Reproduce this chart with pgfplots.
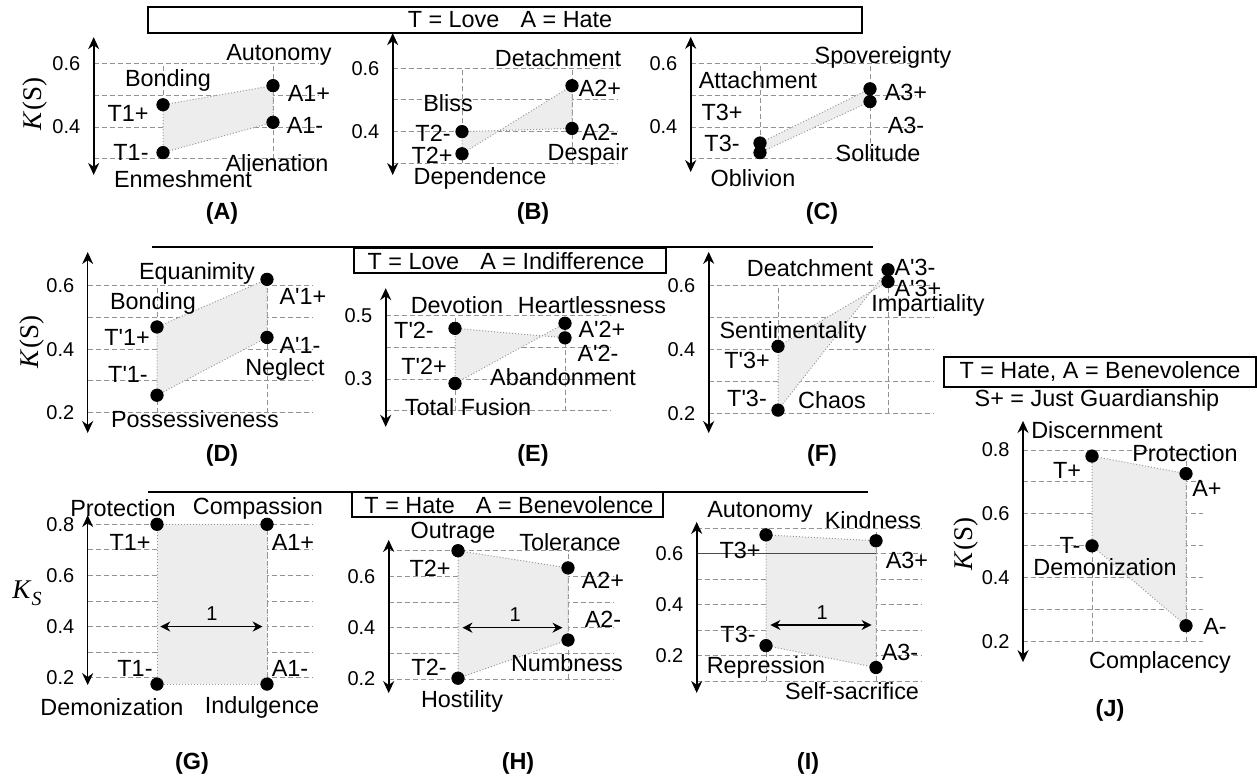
\documentclass[border=0pt]{standalone}
\usepackage{fontspec}
\setmainfont{Liberation Sans}
\newfontfamily\serif{Liberation Serif}
\usepackage{pgfplots}
\pgfplotsset{compat=1.18}
\usetikzlibrary{arrows.meta}

\newcommand\lbl{\fontsize{11.7}{13}\selectfont}
\newcommand\tk{\fontsize{10}{11}\selectfont}
\newcommand\q{\textquotesingle}
\newcommand\KS{{\serif\fontsize{13.5}{15}\selectfont\textit{K}(S)}}
% pixel position (from the top-left corner) to a TikZ point
\newcommand\pxp[2]{({#1*0.5pt},{-#2*0.5pt})}

\pgfplotsset{
  panel/.style={
    scale only axis, clip=false, anchor=south west,
    axis lines=left, axis line style={draw=none,-},
    xmin=0.37, xmax=2.41, width=112.2pt,
    xtick={1,2}, xticklabels={},
    xmajorgrids, ymajorgrids,
    major grid style={gray!85, dash pattern=on 2.5pt off 1.5pt, line width=0.5pt},
    major tick length=0pt,
    yticklabel style={font=\tk, inner sep=0pt, xshift=-6.5pt},
  },
  zone/.style={fill=black!7, draw=gray!80, densely dotted, line width=0.5pt},
  dots/.style={only marks, mark=*, mark size=3.1pt, black},
}
\tikzset{
  yax/.style={{Stealth[length=6pt,width=5.5pt]}-{Stealth[length=6pt,width=5.5pt]}, line width=0.8pt},
  one/.style={{Stealth[length=5pt,width=5pt]}-{Stealth[length=5pt,width=5pt]}, line width=0.7pt},
}

\begin{document}
\begin{tikzpicture}[font=\lbl]
\path[use as bounding box] \pxp{0}{0} rectangle \pxp{1257}{780};

% headers
\draw[line width=0.65pt] \pxp{148}{7} rectangle \pxp{862}{33};
\node[inner sep=0] at \pxp{510}{20} {T = Love\hspace{0.9em}A = Hate};
\draw[line width=0.65pt] \pxp{152}{247} -- \pxp{873}{247};
\draw[line width=0.65pt] \pxp{354}{248} rectangle \pxp{666}{273};
\node[inner sep=0] at \pxp{506}{261} {T = Love\hspace{0.9em}A = Indifference};
\draw[line width=0.65pt] \pxp{148}{492} -- \pxp{868}{492};
\draw[line width=0.65pt] \pxp{352}{492} rectangle \pxp{663}{517};
\node[inner sep=0] at \pxp{509}{505} {T = Hate\hspace{0.9em}A = Benevolence};
\draw[line width=0.65pt] \pxp{944}{357} rectangle \pxp{1256}{387};
\node[inner sep=0] at \pxp{1100}{372} {T = Hate, A = Benevolence};
\node[inner sep=0] at \pxp{1097}{400} {S+ = Just Guardianship};

% (A)
\begin{axis}[panel, at={(46.85pt,-79.5pt)}, height=47.85pt, ymin=0.3, ymax=0.6,
  ytick={0.3,0.4,0.5,0.6}, yticklabels={,0.4,,0.6}]
\addplot[zone] coordinates {(1,0.47) (2,0.53) (2,0.415) (1,0.32)} -- cycle;
\addplot[dots] coordinates {(1,0.47) (2,0.53) (2,0.415) (1,0.32)};
\draw[yax] (axis cs:0.37,0.25) -- (axis cs:0.37,0.682);
\end{axis}

% (B)
\begin{axis}[panel, at={(196.35pt,-81.65pt)}, height=47.5pt, ymin=0.3, ymax=0.6,
  ytick={0.3,0.4,0.5,0.6}, yticklabels={,0.4,,0.6}]
\addplot[zone] coordinates {(1,0.33) (2,0.545) (2,0.41) (1,0.40)} -- cycle;
\addplot[dots] coordinates {(1,0.33) (2,0.545) (2,0.41) (1,0.40)};
\draw[yax] (axis cs:0.37,0.263) -- (axis cs:0.37,0.711);
\end{axis}

% (C)
\begin{axis}[panel, at={(345.35pt,-79.5pt)}, height=47.85pt, ymin=0.3, ymax=0.6,
  ytick={0.3,0.4,0.5,0.6}, yticklabels={,0.4,,0.6}]
\addplot[zone] coordinates {(1,0.35) (2,0.52) (2,0.48) (1,0.32)} -- cycle;
\addplot[dots] coordinates {(1,0.35) (2,0.52) (2,0.48) (1,0.32)};
\draw[yax] (axis cs:0.37,0.259) -- (axis cs:0.37,0.683);
\end{axis}

% (D)
\begin{axis}[panel, at={(43.85pt,-206.35pt)}, height=63.5pt, ymin=0.2, ymax=0.6,
  ytick={0.2,0.3,0.4,0.5,0.6}, yticklabels={0.2,,0.4,,0.6}]
\addplot[zone] coordinates {(1,0.47) (2,0.62) (2,0.437) (1,0.255)} -- cycle;
\addplot[dots] coordinates {(1,0.47) (2,0.62) (2,0.437) (1,0.255)};
\draw[yax] (axis cs:0.37,0.136) -- (axis cs:0.37,0.706);
\end{axis}

% (E)
\begin{axis}[panel, at={(192.85pt,-205.35pt)}, height=47.5pt, ymin=0.2, ymax=0.5,
  ytick={0.2,0.3,0.4,0.5}, yticklabels={,0.3,,0.5}]
\addplot[zone] coordinates {(1,0.286) (2,0.476) (2,0.43) (1,0.46)} -- cycle;
\addplot[dots] coordinates {(1,0.286) (2,0.476) (2,0.43) (1,0.46)};
\draw[yax] (axis cs:0.37,0.149) -- (axis cs:0.37,0.587);
\end{axis}

% (F)
\begin{axis}[panel, at={(354.35pt,-206.65pt)}, height=63.8pt, ymin=0.2, ymax=0.6,
  ytick={0.2,0.3,0.4,0.5,0.6}, yticklabels={0.2,,0.4,,0.6}]
\addplot[zone] coordinates {(1,0.41) (2,0.613) (2,0.65) (1,0.21)} -- cycle;
\addplot[dots] coordinates {(1,0.41) (2,0.613) (2,0.65) (1,0.21)};
\draw[yax] (axis cs:0.37,0.138) -- (axis cs:0.37,0.706);
\end{axis}

% (G)
\begin{axis}[panel, at={(43.85pt,-338.85pt)}, height=76.7pt, ymin=0.2, ymax=0.8,
  ytick={0.2,0.3,0.4,0.5,0.6,0.7,0.8}, yticklabels={0.2,,0.4,,0.6,,0.8}]
\addplot[zone] coordinates {(1,0.8) (2,0.8) (2,0.175) (1,0.175)} -- cycle;
\addplot[dots] coordinates {(1,0.8) (2,0.8) (2,0.175) (1,0.175)};
\draw[yax] (axis cs:0.37,0.171) -- (axis cs:0.37,0.836);
\draw[one] (axis cs:1.03,0.4) -- (axis cs:1.96,0.4);
\node[font=\tk, inner sep=0] at (axis cs:1.5,0.452) {1};
\end{axis}

% (H)
\begin{axis}[panel, at={(194.35pt,-339.5pt)}, height=64.15pt, ymin=0.2, ymax=0.7,
  ytick={0.2,0.3,0.4,0.5,0.6,0.7}, yticklabels={0.2,,0.4,,0.6,}]
\addplot[zone] coordinates {(1,0.70) (2,0.633) (2,0.352) (1,0.203)} -- cycle;
\addplot[dots] coordinates {(1,0.70) (2,0.633) (2,0.352) (1,0.203)};
\draw[yax] (axis cs:0.37,0.145) -- (axis cs:0.37,0.742);
\draw[one] (axis cs:1.04,0.4) -- (axis cs:1.95,0.4);
\node[font=\tk, inner sep=0] at (axis cs:1.52,0.45) {1};
\end{axis}

% (I)
\begin{axis}[panel, at={(348.35pt,-340.5pt)}, height=76.35pt, ymin=0.1, ymax=0.7,
  ytick={0.1,0.2,0.3,0.4,0.5,0.6,0.7}, yticklabels={,0.2,,0.4,,0.6,}]
\addplot[zone] coordinates {(1,0.674) (2,0.651) (2,0.153) (1,0.239)} -- cycle;
\addplot[dots] coordinates {(1,0.674) (2,0.651) (2,0.153) (1,0.239)};
\draw[gray!60!black, line width=0.5pt] (axis cs:0.37,0.6) -- (axis cs:2,0.6);
\draw[yax] (axis cs:0.37,0.053) -- (axis cs:0.37,0.725);
\draw[one] (axis cs:1.04,0.32) -- (axis cs:1.96,0.32);
\node[font=\tk, inner sep=0] at (axis cs:1.51,0.367) {1};
\end{axis}

% (J)
\begin{axis}[panel, at={(511.5pt,-320.85pt)}, width=89.96pt, xmin=0.266, xmax=2.18,
  height=95.85pt, ymin=0.2, ymax=0.8,
  ytick={0.2,0.3,0.4,0.5,0.6,0.7,0.8}, yticklabels={0.2,,0.4,,0.6,,0.8}]
\addplot[zone] coordinates {(1,0.781) (2,0.726) (2,0.25) (1,0.50)} -- cycle;
\addplot[dots] coordinates {(1,0.781) (2,0.726) (2,0.25) (1,0.50)};
\draw[yax] (axis cs:0.266,0.136) -- (axis cs:0.266,0.891);
\end{axis}

% labels
\begin{scope}[every node/.style={inner sep=0}]
\node[rotate=90] at \pxp{35}{104} {\KS};
\node[rotate=90] at \pxp{32}{342} {\KS};
\node[rotate=90] at \pxp{966}{544} {\KS};
\node at \pxp{27}{593} {\serif\fontsize{13.5}{15}\selectfont\textit{K}\raisebox{-0.6ex}{\fontsize{10}{11}\selectfont\textit{S}}};

\node at \pxp{279}{55} {Autonomy};
\node at \pxp{168}{80} {Bonding};
\node at \pxp{128}{113} {T1+};
\node at \pxp{131}{152} {T1-};
\node at \pxp{309}{93} {A1+};
\node at \pxp{305}{125} {A1-};
\node at \pxp{277}{163} {Alienation};
\node at \pxp{183}{179} {Enmeshment};

\node at \pxp{558}{58} {Detachment};
\node at \pxp{448}{103} {Bliss};
\node at \pxp{433}{133} {T2-};
\node at \pxp{432}{155} {T2+};
\node at \pxp{600}{88} {A2+};
\node at \pxp{600}{132} {A2-};
\node at \pxp{588}{154} {Despair};
\node at \pxp{480}{178} {Dependence};

\node at \pxp{883}{57} {Spovereignty};
\node at \pxp{758}{80} {Attachment};
\node at \pxp{722}{112} {T3+};
\node at \pxp{722}{143} {T3-};
\node at \pxp{906}{92} {A3+};
\node at \pxp{906}{125} {A3-};
\node at \pxp{878}{153} {Solitude};
\node at \pxp{753}{178} {Oblivion};

\node at \pxp{197}{273} {Equanimity};
\node at \pxp{153}{303} {Bonding};
\node at \pxp{127}{337} {T\q1+};
\node at \pxp{128}{374} {T\q1-};
\node at \pxp{303}{296} {A\q1+};
\node at \pxp{300}{345} {A\q1-};
\node at \pxp{285}{369} {Neglect};
\node at \pxp{195}{419} {Possessiveness};

\node at \pxp{457}{305} {Devotion};
\node at \pxp{592}{305} {Heartlessness};
\node at \pxp{414}{330} {T\q2-};
\node at \pxp{424}{366} {T\q2+};
\node at \pxp{602}{329} {A\q2+};
\node at \pxp{598}{353} {A\q2-};
\node at \pxp{563}{377} {Abandonment};
\node at \pxp{468}{407} {Total Fusion};

\node at \pxp{810}{268} {Deatchment};
\node at \pxp{915}{267} {A\q3-};
\node at \pxp{918}{288} {A\q3+};
\node at \pxp{928}{305} {Impartiality};
\node at \pxp{793}{332} {Sentimentality};
\node at \pxp{747}{360} {T\q3+};
\node at \pxp{747}{398} {T\q3-};
\node at \pxp{832}{400} {Chaos};

\node at \pxp{123}{508} {Protection};
\node at \pxp{258}{508} {Compassion};
\node at \pxp{130}{542} {T1+};
\node at \pxp{293}{542} {A1+};
\node at \pxp{135}{668} {T1-};
\node at \pxp{290}{668} {A1-};
\node at \pxp{112}{707} {Demonization};
\node at \pxp{262}{707} {Indulgence};

\node at \pxp{453}{533} {Outrage};
\node at \pxp{570}{542} {Tolerance};
\node at \pxp{430}{568} {T2+};
\node at \pxp{603}{580} {A2+};
\node at \pxp{603}{619} {A2-};
\node at \pxp{567}{663} {Numbness};
\node at \pxp{429}{667} {T2-};
\node at \pxp{462}{701} {Hostility};

\node at \pxp{760}{512} {Autonomy};
\node at \pxp{873}{520} {Kindness};
\node at \pxp{740}{550} {T3+};
\node at \pxp{907}{560} {A3+};
\node at \pxp{738}{634} {T3-};
\node at \pxp{900}{652} {A3-};
\node at \pxp{766}{667} {Repression};
\node at \pxp{852}{691} {Self-sacrifice};

\node at \pxp{1097}{430} {Discernment};
\node at \pxp{1185}{453} {Protection};
\node at \pxp{1067}{470} {T+};
\node at \pxp{1207}{488} {A+};
\node at \pxp{1070}{545} {T-};
\node at \pxp{1105}{567} {Demonization};
\node at \pxp{1215}{626} {A-};
\node at \pxp{1160}{662} {Complacency};

\node[font=\lbl\bfseries] at \pxp{222}{213} {(A)};
\node[font=\lbl\bfseries] at \pxp{533}{213} {(B)};
\node[font=\lbl\bfseries] at \pxp{822}{213} {(C)};
\node[font=\lbl\bfseries] at \pxp{222}{455} {(D)};
\node[font=\lbl\bfseries] at \pxp{533}{455} {(E)};
\node[font=\lbl\bfseries] at \pxp{822}{455} {(F)};
\node[font=\lbl\bfseries] at \pxp{192}{763} {(G)};
\node[font=\lbl\bfseries] at \pxp{518}{763} {(H)};
\node[font=\lbl\bfseries] at \pxp{808}{763} {(I)};
\node[font=\lbl\bfseries] at \pxp{1110}{710} {(J)};
\end{scope}
\end{tikzpicture}
\end{document}
